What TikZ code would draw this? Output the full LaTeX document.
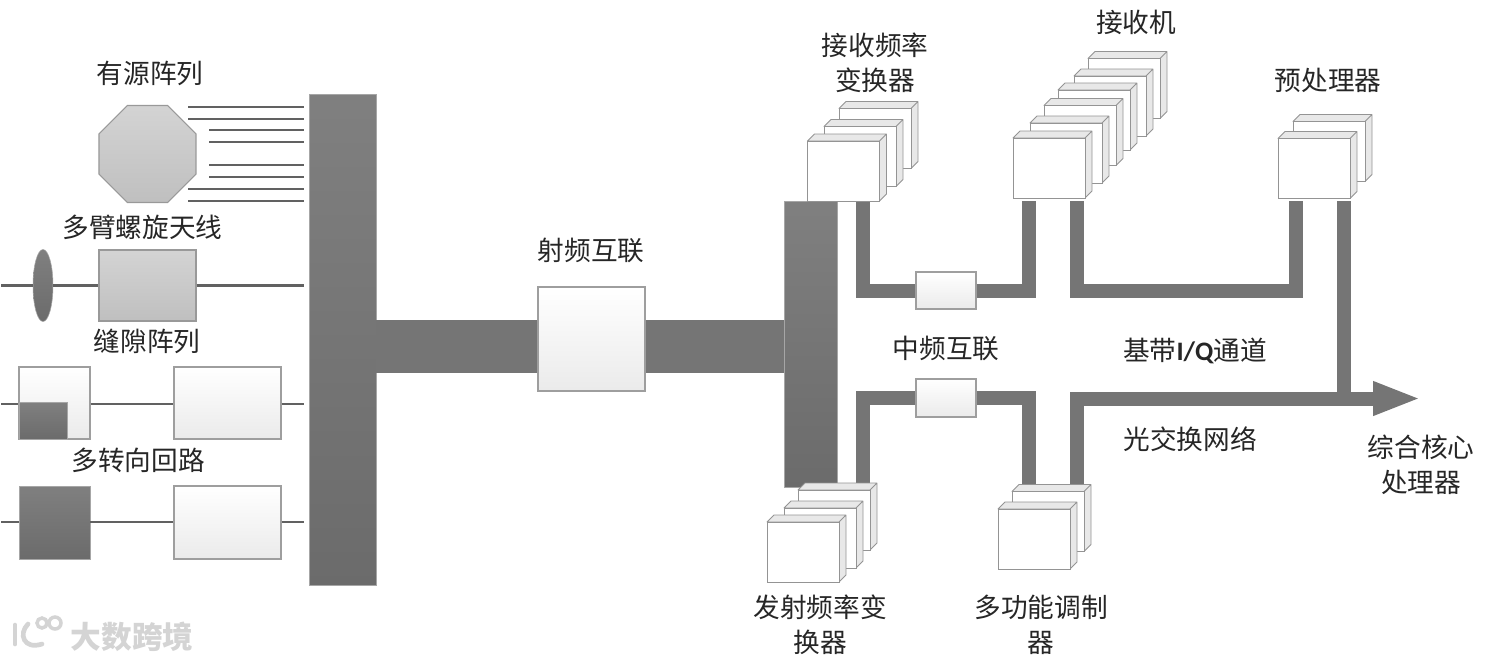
\documentclass[tikz,border=0pt]{standalone}
\usepackage{fontspec}
\setmainfont{Noto Sans CJK SC}
\newfontfamily\latinfont{Carlito}
\usetikzlibrary{arrows.meta,shapes.geometric}

\begin{document}
\begin{tikzpicture}[x=0.75pt, y=-0.75pt,
                    label text/.style={inner sep=0pt, align=center, text=black!85,
                                       font=\fontsize{20}{26.25}\selectfont},
                    dark bar/.style={inner sep=0pt, draw=black!35, top color=black!50, bottom color=black!58},
                    light box/.style={inner sep=0pt, draw=black!38, line width=0.8pt, top color=white, bottom color=black!8},
                    grey box/.style={inner sep=0pt, draw=black!40, line width=0.8pt, top color=black!17, bottom color=black!25},
                    cube face/.style={inner sep=0pt, minimum width=54pt, minimum height=45pt,
                                      draw=black!42, line width=0.6pt, fill=white},
                    cube box/.pic={
                      \filldraw[draw=black!42, fill=black!9, line width=0.6pt, line join=round]
                        (-36,-30) -- (-29,-37) -- (43,-37) -- (36,-30) -- cycle
                        (36,-30) -- (43,-37) -- (43,23) -- (36,30) -- cycle;
                      \node[cube face] (-face) at (0,0) {};
                    },
                    wire/.style={draw=black!62, line width=1.9pt},
                    pipe/.style={draw=black!54, line width=10.5pt},
                    trunk/.style={draw=black!54, line width=39.75pt},
                    mark text/.style={inner sep=0pt, text=black!17, font=\fontsize{23}{23}\bfseries\selectfont},
                    logo line/.style={draw=black!17, line width=2.6pt, line cap=round}]
  \useasboundingbox[fill=white] (0,0) rectangle (1494,662);

  \coordinate (busend) at (304,0);
  \coordinate (linein2) at (1,285.5);
  \coordinate (linein3) at (1,404);
  \coordinate (linein4) at (1,522);
  \coordinate (trunkmid) at (591,346.5);
  \coordinate (rxconvport) at (863,201);
  \coordinate (rxport) at (1029,201);
  \coordinate (rxoutport) at (1076.5,201);
  \coordinate (ppport) at (1296,201);
  \coordinate (ppoutport) at (1343.5,201);
  \coordinate (txport) at (863,484);
  \coordinate (modport) at (1029,486);
  \coordinate (modoutport) at (1077,486);
  \coordinate (arrowend) at (1421,398.5);

  \node[dark bar, minimum width=50.25pt, minimum height=368.25pt] (leftbus) at (342.5,339.5) {};
  \node[dark bar, minimum width=39.75pt, minimum height=214.5pt] (rightbus) at (810.5,344) {};

  \node[grey box, regular polygon, regular polygon sides=8,
        minimum size=78.75pt] (octagon) at (147.5,154) {};
  \node[grey box, minimum width=72.75pt, minimum height=53.25pt] (spiralbox) at (147.5,285.5) {};
  \node[dark bar, ellipse, minimum width=15pt, minimum height=54pt] (spiralfeed) at (43,285.5) {};
  \node[light box, minimum width=53.25pt, minimum height=54pt] (slotbox) at (54.5,403) {};
  \node[dark bar, minimum width=36pt, minimum height=27.75pt] (slotfeed) at (43,420.5) {};
  \node[light box, minimum width=80.25pt, minimum height=54pt] (slotamp) at (227.5,403) {};
  \node[dark bar, minimum width=53.25pt, minimum height=54.75pt] (loopfeed) at (54.5,522.5) {};
  \node[light box, minimum width=80.25pt, minimum height=54.75pt] (loopamp) at (227.5,522.5) {};

  \draw[wire] (188,107) -- (busend |- 0,107);
  \draw[wire] (188,119) -- (busend |- 0,119);
  \draw[wire] (209,130) -- (busend |- 0,130);
  \draw[wire] (209,142) -- (busend |- 0,142);
  \draw[wire] (209,165) -- (busend |- 0,165);
  \draw[wire] (209,177) -- (busend |- 0,177);
  \draw[wire] (188,189) -- (busend |- 0,189);
  \draw[wire] (188,201) -- (busend |- 0,201);
  \draw[wire] (linein2) -- (spiralfeed);
  \draw[wire] (spiralfeed) -- (spiralbox);
  \draw[wire] (spiralbox) -- (busend |- spiralbox);
  \draw[wire] (linein3) -- (slotbox.west |- linein3);
  \draw[wire] (slotbox.east |- linein3) -- (slotamp.west |- linein3);
  \draw[wire] (slotamp.east |- linein3) -- (busend |- linein3);
  \draw[wire] (linein4) -- (loopfeed.west |- linein4);
  \draw[wire] (loopfeed.east |- linein4) -- (loopamp.west |- linein4);
  \draw[wire] (loopamp.east |- linein4) -- (busend |- linein4);

  \node[light box, minimum width=80.25pt, minimum height=78pt] (rfbox) at (591.5,339) {};
  \draw[trunk] (leftbus.east |- trunkmid) -- (rfbox.west |- trunkmid);
  \draw[trunk] (rfbox.east |- trunkmid) -- (rightbus.west |- trunkmid);

  \node[light box, minimum width=45pt, minimum height=27.75pt] (ifup) at (946,290.5) {};
  \node[light box, minimum width=45pt, minimum height=28.5pt] (ifdown) at (946,398) {};
  \draw[pipe] (ifup.west) -| (rxconvport);
  \draw[pipe] (ifup.east) -| (rxport);
  \draw[pipe] (rxoutport) -- ++(0,89.5) -| (ppport);
  \draw[pipe] (ppoutport) -- (ppoutport |- arrowend);
  \draw[pipe] (ifdown.west) -| (txport);
  \draw[pipe] (ifdown.east) -| (modport);
  \draw[pipe, -{Triangle[length=36pt, width=23.25pt]}] (modoutport) |- (arrowend);

  \pic (rxconvc) at (875,138.5) {cube box};
  \pic (rxconvb) at (860,156.5) {cube box};
  \pic (rxconva) at (843.5,171) {cube box};
  \pic (rxf) at (1124,88.5) {cube box};
  \pic (rxe) at (1110,106) {cube box};
  \pic (rxd) at (1094,120) {cube box};
  \pic (rxc) at (1080,135.5) {cube box};
  \pic (rxb) at (1066,153) {cube box};
  \pic (rxa) at (1049,168) {cube box};
  \pic (ppb) at (1329,151.5) {cube box};
  \pic (ppa) at (1314,168.5) {cube box};
  \pic (txc) at (834,520) {cube box};
  \pic (txb) at (820,538) {cube box};
  \pic (txa) at (803,552) {cube box};
  \pic (modb) at (1048,521.5) {cube box};
  \pic (moda) at (1034,539) {cube box};

  \node[label text] (activelabel) at (150,73) {有源阵列};
  \node[label text] (spirallabel) at (142.5,227) {多臂螺旋天线};
  \node[label text] (slotlabel) at (147,341) {缝隙阵列};
  \node[label text] (looplabel) at (138,460) {多转向回路};
  \node[label text] (rflabel) at (591,250) {射频互联};
  \node[label text] (rxconvlabel) at (875,62.5) {接收频率\\变换器};
  \node[label text] (rxlabel) at (1136,22) {接收机};
  \node[label text] (pplabel) at (1328,80) {预处理器};
  \node[label text] (iflabel) at (946,348) {中频互联};
  \node[label text] (iqlabel) at (1195,351) {基带{\latinfont\bfseries I/Q}通道};
  \node[label text] (opticlabel) at (1190,439) {光交换网络};
  \node[label text] (corelabel) at (1421,464.5) {综合核心\\处理器};
  \node[label text] (txlabel) at (820,624.5) {发射频率变\\换器};
  \node[label text] (modlabel) at (1041,624.5) {多功能调制\\器};

  \node[mark text] (marklabel) at (132,637) {大数跨境};
  \draw[logo line, line width=3.5pt] (15,625) -- (15,644);
  \draw[logo line, line width=3.5pt] (28,624) .. controls (18,634) and (24,650) .. (42,644);
  \draw[logo line] (42,623) circle (5) (55,623) circle (6);
\end{tikzpicture}
\end{document}
